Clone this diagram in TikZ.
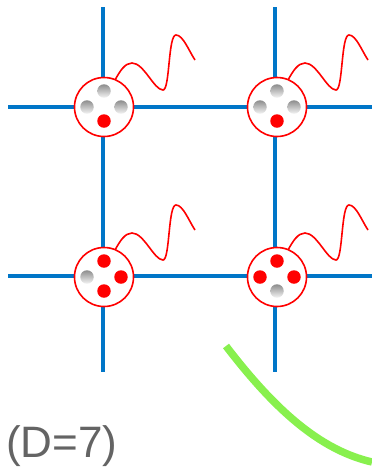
\documentclass[tikz,border=0pt]{standalone}
\usepackage{fontspec}
\setmainfont{Liberation Sans}
\definecolor{gridblue}{RGB}{0,118,200}
\definecolor{sitered}{RGB}{255,0,0}
\definecolor{arcgreen}{RGB}{136,240,78}
\definecolor{labelgray}{RGB}{100,100,100}
\tikzset{
  x=1pt, y=1pt,
  gridline/.style={draw=gridblue, line width=3.6pt},
  site/.style={circle, draw=sitered, fill=white, line width=1.6pt, minimum size=59pt, inner sep=0pt},
  fulldot/.style={circle, fill=sitered, minimum size=13.5pt, inner sep=0pt},
  emptydot/.style={circle, top color=black!45, bottom color=black!4, minimum size=13.5pt, inner sep=0pt},
  wave/.style={draw=sitered, line width=1.6pt}
}
\begin{document}
\begin{tikzpicture}
\useasboundingbox (0,0) rectangle (372,-467);

% lattice ends
\coordinate (hl1) at (8,-107);   \coordinate (hr1) at (372,-107);
\coordinate (hl2) at (8,-276);   \coordinate (hr2) at (372,-276);
\coordinate (vt1) at (103,-7);   \coordinate (vb1) at (103,-372);
\coordinate (vt2) at (275,-7);   \coordinate (vb2) at (275,-372);

\draw[gridline] (hl1) -- (hr1);
\draw[gridline] (hl2) -- (hr2);
\draw[gridline] (vt1) -- (vb1);
\draw[gridline] (vt2) -- (vb2);

% lattice sites with their occupied (red) and empty (grey) states
% order of states: top, left, right, bottom
\foreach \name/\cx/\cy/\st in {
    s11/104/-107/{emptydot,emptydot,emptydot,fulldot},
    s12/277/-107/{emptydot,emptydot,emptydot,fulldot},
    s21/104/-277/{fulldot,emptydot,fulldot,fulldot},
    s22/277/-277/{fulldot,fulldot,fulldot,emptydot}} {
  \node[site] (\name) at (\cx,\cy) {};
  \foreach \sty [count=\i] in \st {
    \ifcase\i\or
      \node[\sty] (\name-t) at ([yshift=16pt]\name.center) {};
    \or
      \node[\sty] (\name-l) at ([xshift=-17pt]\name.center) {};
    \or
      \node[\sty] (\name-r) at ([xshift=17pt]\name.center) {};
    \or
      \node[\sty] (\name-b) at ([yshift=-14pt]\name.center) {};
    \fi
  }
  \draw[wave] ([shift={(11,27)}]\name.center)
    .. controls +(5,9) and +(-7,0) .. ++(17,17)
    .. controls +(12,0) and +(-9,0) .. ++(31,-27)
    .. controls +(7,0) and +(-8,0) .. ++(13,55)
    .. controls +(7,0) and +(-6,9) .. ++(19,-25);
}

% green arc
\coordinate (g0) at (226,-346);
\coordinate (g1) at (372,-462);
\draw[draw=arcgreen, line width=7.5pt] (g0) .. controls (275,-410) and (320,-450) .. (g1);

\node[anchor=base west, inner sep=0pt, text=labelgray, font=\fontsize{44}{44}\selectfont] (lbl) at (6,-457) {(D=7)};
\end{tikzpicture}
\end{document}
